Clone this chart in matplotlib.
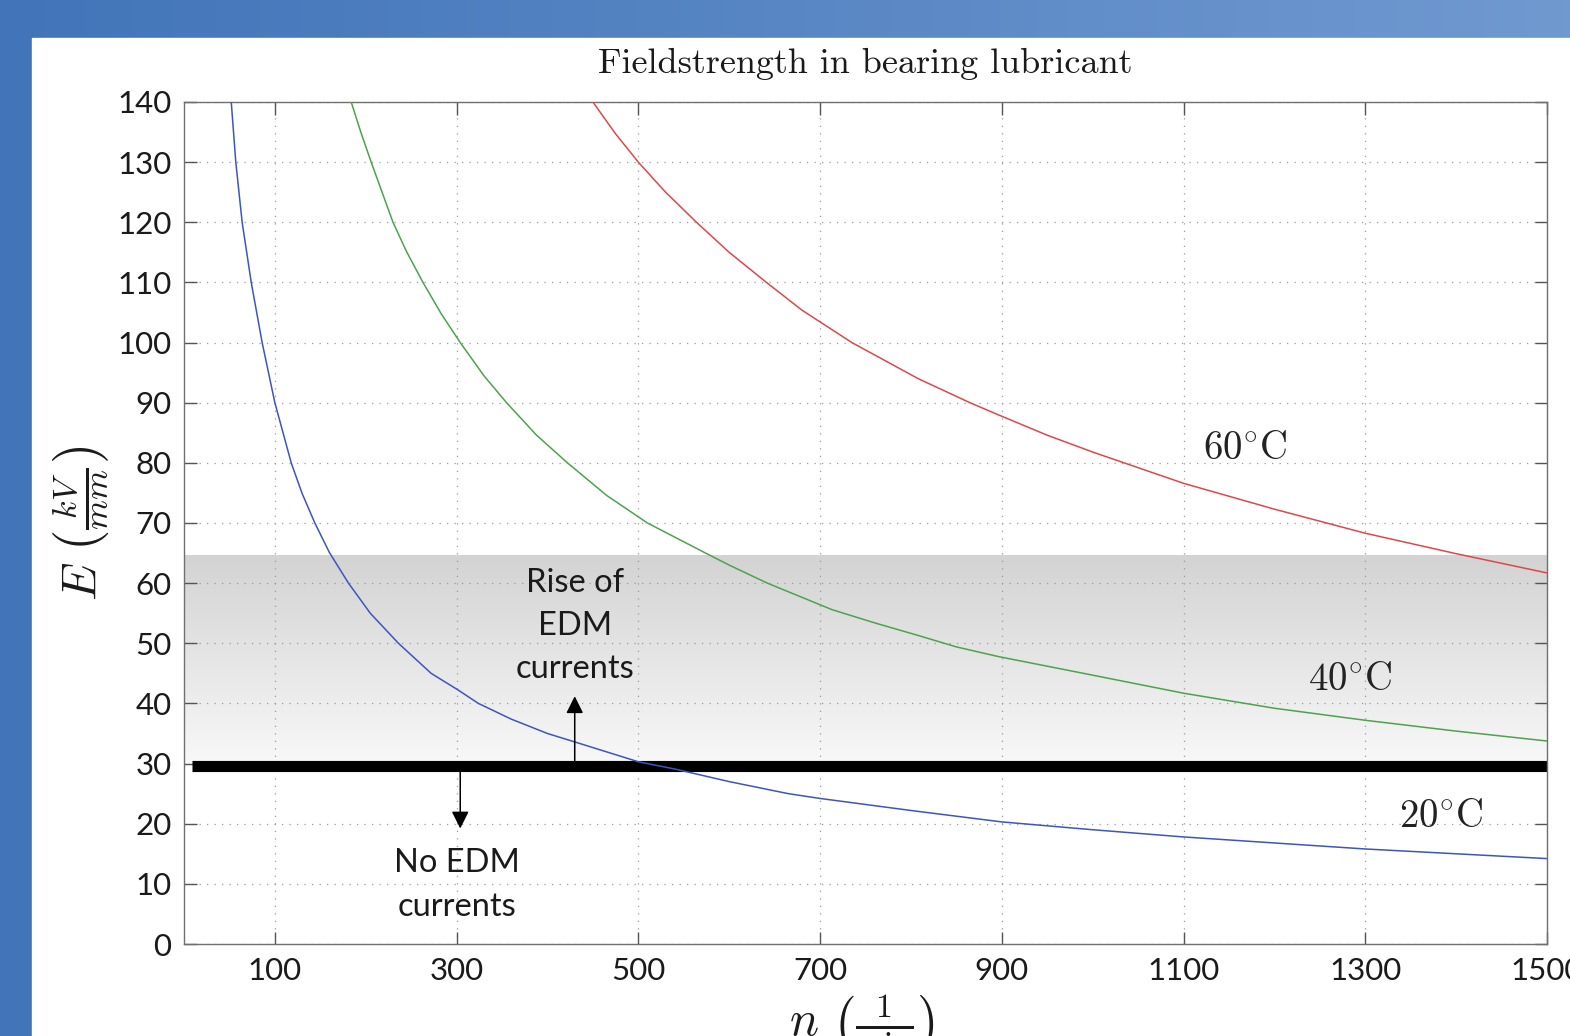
import numpy as np
import matplotlib
matplotlib.use("Agg")
import matplotlib.pyplot as plt
from matplotlib.colors import LinearSegmentedColormap
from matplotlib.patches import Rectangle

# -------------------------------
# Data
# -------------------------------
# 20 degC
blue_n = [52, 57, 64, 74, 86, 100, 118, 130, 144, 160, 181, 205, 236, 272, 302,
          324, 360, 400, 430, 500, 540, 600, 665, 700, 800, 900, 1000, 1100,
          1200, 1300, 1400, 1500]
blue_E = [140, 130, 120, 110, 100, 90, 80, 74.9, 70, 65.1, 60, 55.0, 50, 45, 42.2,
          40, 37.4, 35, 33.6, 30.3, 29.1, 27.0, 25, 24.2, 22.2, 20.3, 19.0, 17.8,
          16.8, 15.8, 15.0, 14.2]

# 40 degC
green_n = [184, 195, 206, 230, 245, 263, 283, 304, 330, 355, 388, 422, 465, 510,
           574, 600, 642, 713, 760, 808, 850, 896, 1000, 1100, 1200, 1300, 1400, 1500]
green_E = [140, 134.8, 130, 120, 115.1, 110, 104.8, 100, 94.5, 90, 84.6, 80, 74.6, 70,
           65, 63.0, 60, 55.6, 53.4, 51.3, 49.4, 47.8, 44.7, 41.7, 39.2, 37.2, 35.4, 33.75]

# 60 degC
red_n = [450, 475, 500, 530, 564, 600, 641, 680, 735, 808, 865, 896, 950, 1000,
         1050, 1100, 1200, 1300, 1400, 1500]
red_E = [140, 134.7, 130, 125, 120, 115, 110, 105.4, 100, 94, 90, 88, 84.6, 81.8,
         79.2, 76.6, 72.3, 68.3, 64.9, 61.7]

curve_labels = ["$20^{\\circ}\\mathrm{C}$", "$40^{\\circ}\\mathrm{C}$", "$60^{\\circ}\\mathrm{C}$"]
label_n = [1384, 1284, 1168]
label_E = [21.2, 44.1, 82.5]

threshold_E = 29.6
threshold_n = [9, 1500]
shade_E = [30, 64.7]

rise_arrow_n, rise_arrow_E = 430, [30.4, 41.2]
no_arrow_n, no_arrow_E = 304, [28.9, 19.2]
rise_text_pos = (430, 52.9)
no_text_pos = (300, 9.8)

x_ticks = [100, 300, 500, 700, 900, 1100, 1300, 1500]
y_ticks = list(range(0, 150, 10))

# -------------------------------
# Style
# -------------------------------
plt.rcParams["mathtext.fontset"] = "cm"
plt.rcParams["font.family"] = ["Lato", "DejaVu Sans"]

W, H = 1570, 1036
fig = plt.figure(figsize=(W / 100, H / 100), dpi=100)

# slide background: blue band on top and left, white panel
bg = fig.add_axes([0, 0, 1, 1], zorder=-10)
slide_cmap = LinearSegmentedColormap.from_list("slide", ["#4174b9", "#7099d0"])
bg.imshow(np.linspace(0, 1, 256).reshape(1, -1), extent=[0, 1, 0, 1],
          aspect="auto", cmap=slide_cmap)
bg.add_patch(Rectangle((32 / W, 0), 1, 1 - 38 / H, color="white"))
bg.set_xlim(0, 1)
bg.set_ylim(0, 1)
bg.axis("off")

ax = fig.add_axes([184 / W, 1 - 944 / H, 1363 / W, 842 / H])

# grey band "rise of EDM currents"
shade_cmap = LinearSegmentedColormap.from_list("shade", ["#f8f8f8", "#d3d3d3"])
ax.imshow(np.linspace(0, 1, 200).reshape(-1, 1), origin="lower",
          extent=[0, 1500, shade_E[0], shade_E[1]], aspect="auto",
          cmap=shade_cmap, zorder=0.5)

ax.plot(threshold_n, [threshold_E, threshold_E], color="black", lw=8, zorder=2,
        solid_capstyle="butt")

ax.plot(blue_n, blue_E, color="#3d55bf", lw=1.1, zorder=3)
ax.plot(green_n, green_E, color="#4ea24e", lw=1.1, zorder=3)
ax.plot(red_n, red_E, color="#e0474b", lw=1.1, zorder=3)

for txt, n, e in zip(curve_labels, label_n, label_E):
    ax.text(n, e, txt, ha="center", va="center", fontsize=28, color="#222222")

# arrows
arrow_kw = dict(arrowstyle="-|>", color="black", lw=1.1, mutation_scale=26,
                shrinkA=0, shrinkB=0)
ax.annotate("", xy=(rise_arrow_n, rise_arrow_E[1]),
            xytext=(rise_arrow_n, rise_arrow_E[0]), arrowprops=arrow_kw, zorder=4)
ax.annotate("", xy=(no_arrow_n, no_arrow_E[1]),
            xytext=(no_arrow_n, no_arrow_E[0]), arrowprops=arrow_kw, zorder=4)

ax.text(*rise_text_pos, "Rise of\nEDM\ncurrents", ha="center", va="center",
        fontsize=23.5, linespacing=1.55, color="#1a1a1a")
ax.text(*no_text_pos, "No EDM\ncurrents", ha="center", va="center",
        fontsize=23.5, linespacing=1.55, color="#1a1a1a")

ax.set_xlim(0, 1500)
ax.set_ylim(0, 140)
ax.set_xticks(x_ticks)
ax.set_yticks(y_ticks)
ax.grid(True, linestyle=(0, (1, 5)), color="#9a9a9a", lw=0.9)
ax.tick_params(direction="in", length=9, width=1.0, color="#555555",
               top=True, right=True, labelsize=22.5, pad=9, labelcolor="#1a1a1a")
for sp in ax.spines.values():
    sp.set_color("#707070")
    sp.set_linewidth(1.0)

# -------------------------------
# Title and axis labels
# -------------------------------
fig.text(865 / W, 1 - 64 / H, "Fieldstrength in bearing lubricant",
         family="cmr10", fontsize=26, ha="center", va="center", color="#1a1a1a")
fig.text(82 / W, 1 - 523 / H, r"$E\ \left(\frac{kV}{mm}\right)$",
         rotation=90, ha="center", va="center", fontsize=35, color="#1a1a1a")
fig.text(862 / W, 1 - 993 / H, r"$n\ \left(\frac{1}{\mathrm{min}}\right)$",
         ha="center", va="top", fontsize=35, color="#1a1a1a")

fig.savefig("out.png", dpi=100)
